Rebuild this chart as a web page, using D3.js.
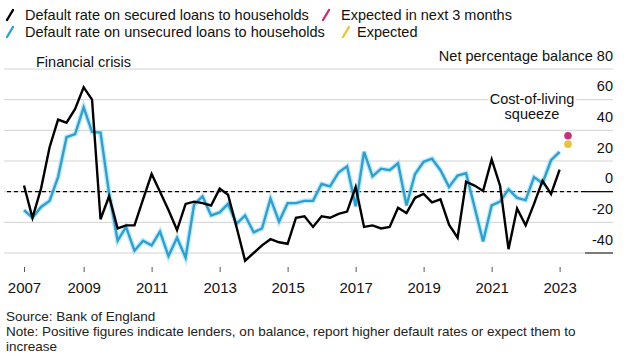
<!DOCTYPE html>
<html><head><meta charset="utf-8">
<script src="https://cdn.jsdelivr.net/npm/d3@7"></script>
<style>
body{margin:0;background:#fff;}
svg{display:block;font-family:"Liberation Sans",Arial,Helvetica,sans-serif;}
</style></head><body>
<svg id="c" width="628" height="362"></svg>
<script>
// Quarterly survey, first quarter 2007 Q2, last 2023 Q1
const firstYear = 2007, firstQuarter = 2;
const securedDefaults = [4,-17,2,29,47,45,54,68,60,-18,-3,-24,-22,-22,-5,11.5,0,-12,-25,-8,-6.5,-7.5,-9,2,-2,-23,-45,-40,-35,-31,-33,-34,-17,-16,-23,-16,-17,-14.5,-13,3,-23,-22,-24,-23,-10.5,-14,-4,-1.5,-7,-5,-21.5,-30,6.5,4,0.5,21,4,-37.5,-11,-22,-8,7,-1.5,14.4];
const unsecuredDefaults = [-12,-17,-10,-6,9.5,35.5,37.5,55,39,38.5,-1,-32,-23,-38.5,-32,-35,-26,-42,-30,-43,-8.5,-3,-15.5,-13.5,-8,-21,-15.5,-26.5,-24,-4.5,-19.5,-7.5,-7.5,-6,-6,5,3.5,12.5,16.5,-9.5,26,10,15,14,18.5,-9,11.5,19.5,21.5,14,3,10.5,12,-10,-32.5,-9,-6.5,1.5,-4,-5.5,9.5,5.5,20.5,26];
const expectedSecured = 36.5;   // expected in next 3 months (2023 Q2)
const expectedUnsecured = 31;   // expected (2023 Q2)
const yTicks = [-40,-20,0,20,40,60,80];
const xTickYears = [2007,2009,2011,2013,2015,2017,2019,2021,2023];
const xTickLabels = ["2007","2009","2011","2013","2015","2017","2019","2021","2023"];

const svg = d3.select("#c");
const qDate = i => new Date(firstYear, (firstQuarter-1)*3 + 3*i, 1);
const dates = securedDefaults.map((d,i)=>qDate(i));
const expDate = qDate(securedDefaults.length);

const x = d3.scaleTime().domain([qDate(0), expDate]).range([24, 568]);
const y = d3.scaleLinear().domain([-40, 80]).range([253, 69]);

// gridlines
svg.append("g").selectAll("line").data(yTicks).join("line")
  .attr("x1", 4).attr("x2", 613)
  .attr("y1", d=>y(d)).attr("y2", d=>y(d))
  .attr("stroke", "#d2d2d2").attr("stroke-width", 1);

// y labels
const yAxis = d3.axisRight(y).tickValues(yTicks).tickSize(0)
  .tickFormat(d => d===80 ? "Net percentage balance 80" : String(d));
const gy = svg.append("g").attr("transform","translate(613,0)").call(yAxis);
gy.select(".domain").remove();
gy.selectAll("text").attr("x",0).attr("dy",0).attr("y",-9)
  .attr("text-anchor","end").attr("font-size","14.5px")
  .attr("font-family","'Liberation Sans',Arial,sans-serif").attr("fill","#111");

// zero line & bottom marker
svg.append("line").attr("x1",7).attr("x2",585).attr("y1",y(0)).attr("y2",y(0))
  .attr("stroke","#000").attr("stroke-width",1.3).attr("stroke-dasharray","4,3");
svg.append("line").attr("x1",585).attr("x2",613).attr("y1",y(0)).attr("y2",y(0))
  .attr("stroke","#000").attr("stroke-width",1.2);
svg.append("line").attr("x1",585).attr("x2",613).attr("y1",y(-40)).attr("y2",y(-40))
  .attr("stroke","#333").attr("stroke-width",1.2);

// x axis
const tickDates = xTickYears.map((yr,i)=> i===0 ? qDate(0) : new Date(yr,0,1));
const xAxis = d3.axisBottom(x).tickValues(tickDates).tickSize(5)
  .tickFormat((d,i)=>xTickLabels[i]);
const gx = svg.append("g").attr("transform","translate(0,267)").call(xAxis);
gx.select(".domain").remove();
gx.selectAll(".tick line").attr("stroke","#555");
gx.selectAll("text").attr("y",26).attr("dy",0).attr("font-size","15px")
  .attr("font-family","'Liberation Sans',Arial,sans-serif").attr("fill","#111");

// lines
const line = d3.line().x((d,i)=>x(dates[i])).y(d=>y(d)).curve(d3.curveLinear);
svg.append("path").datum(unsecuredDefaults).attr("d",line).attr("fill","none")
  .attr("stroke","#a9e0f4").attr("stroke-width",5).attr("stroke-opacity",0.7);
svg.append("path").datum(unsecuredDefaults).attr("d",line).attr("fill","none")
  .attr("stroke","#2aa1d3").attr("stroke-width",2.4);
svg.append("path").datum(securedDefaults).attr("d",line).attr("fill","none")
  .attr("stroke","#000").attr("stroke-width",2.4);

// expected dots
svg.append("circle").attr("cx",x(expDate)).attr("cy",y(expectedSecured)).attr("r",3.8).attr("fill","#c5317c");
svg.append("circle").attr("cx",x(expDate)).attr("cy",y(expectedUnsecured)).attr("r",3.8).attr("fill","#e6c63c");

// annotations
const fs = "14.5px";
svg.append("text").attr("x",36).attr("y",67).attr("font-size",fs).attr("fill","#111").text("Financial crisis");
const c1 = svg.append("text").attr("x",532).attr("y",104).attr("text-anchor","middle").attr("font-size",fs).attr("fill","#111").text("Cost-of-living");
const bb = c1.node().getBBox();
svg.insert("rect", () => c1.node()).attr("x",bb.x-2).attr("y",bb.y).attr("width",bb.width+4).attr("height",bb.height).attr("fill","#fff");
svg.append("text").attr("x",532).attr("y",119).attr("text-anchor","middle").attr("font-size",fs).attr("fill","#111").text("squeeze");

// legend
const legend = [
  {c:"#000", x:7, y:20, tx:25, t:"Default rate on secured loans to households"},
  {c:"#c5317c", x:323, y:20, tx:341, t:"Expected in next 3 months"},
  {c:"#2aa1d3", x:7, y:37, tx:25, t:"Default rate on unsecured loans to households"},
  {c:"#e6c63c", x:343, y:37, tx:357, t:"Expected"}
];
const lg = svg.append("g");
legend.forEach(l=>{
  lg.append("line").attr("x1",l.x).attr("y1",l.y).attr("x2",l.x+6).attr("y2",l.y-10)
    .attr("stroke",l.c).attr("stroke-width",2.4).attr("stroke-linecap","round");
  lg.append("text").attr("x",l.tx).attr("y",l.y).attr("font-size",fs).attr("fill","#111").text(l.t);
});

// footer
const ff = "13.5px";
svg.append("text").attr("x",6).attr("y",321).attr("font-size",ff).attr("fill","#222").text("Source: Bank of England");
svg.append("text").attr("x",6).attr("y",336).attr("font-size",ff).attr("fill","#222").text("Note: Positive figures indicate lenders, on balance, report higher default rates or expect them to");
svg.append("text").attr("x",6).attr("y",351).attr("font-size",ff).attr("fill","#222").text("increase");
</script>
</body></html>
